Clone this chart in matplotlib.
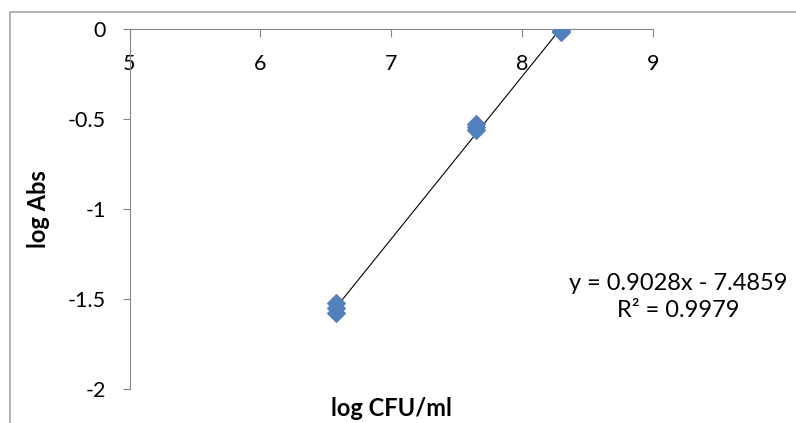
import numpy as np
import matplotlib
matplotlib.use('Agg')
import matplotlib.pyplot as plt
from matplotlib.patches import Rectangle

# Data (triplicate readings)
log_cfu = [6.58, 6.58, 6.58, 7.65, 7.65, 7.65, 8.30, 8.30, 8.30]
log_abs = [-1.52, -1.55, -1.58, -0.53, -0.545, -0.56, -0.01, -0.012, -0.015]

# Trendline coefficients as shown on the chart
slope = 0.9028
intercept = -7.4859
r_squared = 0.9979

x_ticks = [5, 6, 7, 8, 9]
x_tick_labels = ['5', '6', '7', '8', '9']
y_ticks = [-2, -1.5, -1, -0.5, 0]
y_tick_labels = ['-2', '-1.5', '-1', '-0.5', '0']

plt.rcParams['font.family'] = ['Lato', 'DejaVu Sans']
plt.rcParams['axes.unicode_minus'] = False

W, H = 796, 423
fig = plt.figure(figsize=(W / 100, H / 100), dpi=100)
ax = fig.add_axes([129.5 / W, 1 - 389 / H, (653 - 129.5) / W, (389 - 29) / H])

axis_grey = '#868686'

# trendline over the data range
xs = np.array([min(log_cfu), max(log_cfu)])
ax.plot(xs, slope * xs + intercept, color='black', lw=0.8, zorder=2)

ax.plot(log_cfu, log_abs, linestyle='none', marker='D', markersize=9,
        markerfacecolor='#4F81BD', markeredgecolor='#5B7DBE', markeredgewidth=0.8,
        zorder=3)

ax.set_xlim(5, 9)
ax.set_ylim(-2, 0)

ax.spines['bottom'].set_position(('data', 0))
ax.spines['top'].set_visible(False)
ax.spines['right'].set_visible(False)
ax.spines['bottom'].set_color(axis_grey)
ax.spines['left'].set_color(axis_grey)

ax.set_xticks(x_ticks)
ax.set_xticklabels(x_tick_labels)
ax.set_yticks(y_ticks)
ax.set_yticklabels(y_tick_labels)
ax.tick_params(axis='x', direction='out', length=6, color=axis_grey,
               labelsize=15.5, pad=12)
ax.tick_params(axis='y', direction='out', length=5, color=axis_grey,
               labelsize=15.5, pad=12)

fig.text(391 / W, 1 - 408 / H, 'log CFU/ml', fontsize=17, fontweight='bold',
         ha='center', va='center')
fig.text(38 / W, 1 - 209 / H, 'log Abs', fontsize=17, fontweight='bold',
         ha='center', va='center', rotation=90)

fig.text(678 / W, 1 - 297 / H,
         'y = %.4fx - %.4f\nR² = %.4f' % (slope, -intercept, r_squared),
         ha='center', va='center', multialignment='center', fontsize=17,
         linespacing=1.4)

# chart area border (extends past the right and bottom edges)
fig.patches.append(Rectangle((10 / W, -0.1), 1.2, 1 - 12 / H + 0.1,
                             transform=fig.transFigure, fill=False,
                             edgecolor='#a6a6a6', lw=1.2))

fig.savefig('out.png', dpi=100)
